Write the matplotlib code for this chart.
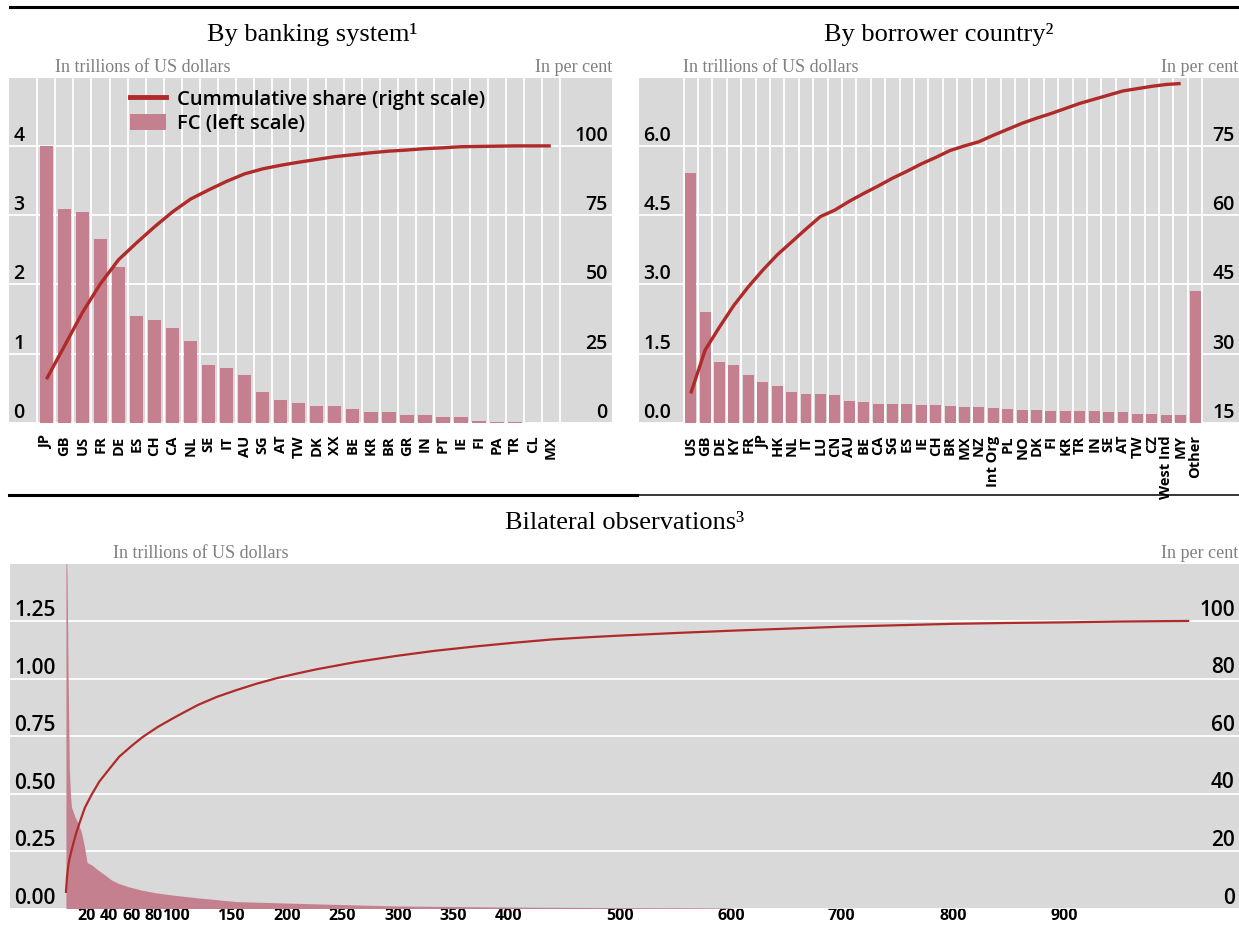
import matplotlib.pyplot as plt
from matplotlib.lines import Line2D
from matplotlib.patches import Patch

BG = '#d9d9d9'
BAR = '#c4808f'
LINE = '#b02a2a'
SANS = 'Open Sans'
SERIF = 'Liberation Serif'

# by banking system
bank_codes = ['JP', 'GB', 'US', 'FR', 'DE', 'ES', 'CH', 'CA', 'NL', 'SE', 'IT', 'AU', 'SG', 'AT', 'TW',
              'DK', 'XX', 'BE', 'KR', 'BR', 'GR', 'IN', 'PT', 'IE', 'FI', 'PA', 'TR', 'CL', 'MX']
bank_fc = [4.00, 3.09, 3.04, 2.66, 2.25, 1.55, 1.48, 1.37, 1.18, 0.83, 0.79, 0.70, 0.45, 0.33, 0.29,
           0.25, 0.25, 0.20, 0.16, 0.16, 0.11, 0.11, 0.09, 0.09, 0.03, 0.02, 0.02, 0.0, 0.0]
bank_cum = [15.8, 27.8, 39.9, 50.3, 58.9, 65.0, 70.8, 76.2, 80.8, 84.1, 87.2, 89.9, 91.7, 93.0, 94.1,
            95.1, 96.1, 96.8, 97.5, 98.1, 98.5, 99.0, 99.3, 99.7, 99.8, 99.9, 100.0, 100.0, 100.0]

# by borrower country
borr_codes = ['US', 'GB', 'DE', 'KY', 'FR', 'JP', 'HK', 'NL', 'IT', 'LU', 'CN', 'AU', 'BE', 'CA', 'SG',
              'ES', 'IE', 'CH', 'BR', 'MX', 'NZ', 'Int Org', 'PL', 'NO', 'DK', 'FI', 'KR', 'TR', 'IN',
              'SE', 'AT', 'TW', 'CZ', 'West Ind', 'MY', 'Other']
borr_fc = [5.41, 2.41, 1.31, 1.26, 1.04, 0.89, 0.81, 0.68, 0.62, 0.62, 0.61, 0.47, 0.45, 0.42, 0.42,
           0.42, 0.40, 0.38, 0.37, 0.35, 0.35, 0.33, 0.30, 0.29, 0.29, 0.27, 0.27, 0.27, 0.26,
           0.24, 0.23, 0.20, 0.20, 0.18, 0.17, 2.86]
borr_cum = [21.4, 30.8, 35.8, 40.5, 44.5, 48.1, 51.4, 54.2, 57.0, 59.7, 61.1, 63.0, 64.7, 66.3, 68.0,
            69.5, 71.1, 72.5, 74.0, 75.0, 75.9, 77.3, 78.6, 79.9, 81.0, 82.0, 83.1, 84.2, 85.1,
            86.0, 86.9, 87.4, 87.9, 88.3, 88.5]

# bilateral observations (rank, value)
bil_rank = [1, 2, 3, 4, 5, 6, 9, 12, 15, 18, 20, 24, 30, 36, 42, 48, 57, 69, 81, 96, 120, 155, 227,
            298, 405, 500, 600]
bil_fc = [1.60, 1.45, 1.00, 0.62, 0.50, 0.44, 0.40, 0.37, 0.33, 0.26, 0.20, 0.19, 0.167, 0.146, 0.124,
          0.11, 0.095, 0.08, 0.069, 0.059, 0.046, 0.03, 0.02, 0.011, 0.006, 0.004, 0.003]
bil_cum_rank = [1, 2, 3, 4, 6, 8, 10, 13, 18, 24, 31, 40, 49, 60, 70, 84, 100, 120, 137, 155, 173,
                191, 209, 227, 262, 298, 333, 369, 404, 440, 470, 500, 550, 600, 650, 700, 750, 800,
                850, 900, 950, 1012]
bil_cum = [5.8, 11.0, 14.6, 16.9, 20.2, 23.1, 25.9, 29.5, 35.0, 39.5, 44.1, 48.5, 52.8, 56.5, 59.6,
           63.2, 66.7, 70.8, 73.6, 76.0, 78.2, 80.1, 81.7, 83.2, 85.7, 87.8, 89.6, 91.1, 92.4, 93.6,
           94.3, 94.9, 95.8, 96.6, 97.3, 98.0, 98.5, 99.0, 99.3, 99.5, 99.8, 100.0]
bil_xticks = [20, 40, 60, 80, 100, 150, 200, 250, 300, 350, 400, 500, 600, 700, 800, 900]

W, H = 1239, 931
fig = plt.figure(figsize=(W / 100, H / 100), dpi=100)


def box(l, t, r, b):
    return [l / W, 1 - b / H, (r - l) / W, (b - t) / H]


def style(ax, ax2, yt, ylab, yt2, ylab2, ylim, ylim2, fs):
    ax.set_facecolor(BG)
    for a in (ax, ax2):
        for s in a.spines.values():
            s.set_visible(False)
    ax.set_ylim(ylim)
    ax2.set_ylim(ylim2)
    ax.set_yticks(yt, labels=ylab)
    ax2.set_yticks(yt2, labels=ylab2)
    ax.grid(axis='y', color='white', lw=1.3)
    ax.set_axisbelow(True)
    ax.tick_params(axis='y', length=0, pad=-3)
    ax2.tick_params(axis='y', length=0, pad=-3)
    for t in ax.get_yticklabels():
        t.set(ha='left', va='bottom', fontsize=fs, fontweight='semibold', family=SANS)
    for t in ax2.get_yticklabels():
        t.set(ha='right', va='bottom', fontsize=fs, fontweight='semibold', family=SANS)


def bar_panel(rect, codes, fc, cum, xlim, yt, ylab, yt2, ylab2, ylim, ylim2):
    ax = fig.add_axes(rect)
    ax2 = ax.twinx()
    n = len(codes)
    ax.bar(range(n), fc, width=0.76, color=BAR, zorder=2)
    for i in range(n + 1):
        ax.axvline(i - 0.5, color='white', lw=1.3, zorder=1)
    ax2.plot(range(len(cum)), cum, color=LINE, lw=2.4, solid_capstyle='butt')
    ax.set_xlim(xlim)
    ax.set_xticks(range(n), labels=codes, rotation=90)
    ax.tick_params(axis='x', length=0, pad=9)
    for t in ax.get_xticklabels():
        t.set(fontsize=10.5, fontweight='bold', family=SANS)
    style(ax, ax2, yt, ylab, yt2, ylab2, ylim, ylim2, 14)
    return ax, ax2


ax1, ax1b = bar_panel(box(9, 78, 612, 423), bank_codes, bank_fc, bank_cum, (-2.08, 31.4),
                      [0, 1, 2, 3, 4], ['0', '1', '2', '3', '4'],
                      [0, 25, 50, 75, 100], ['0', '25', '50', '75', '100'], (0, 4.98), (0, 124.5))

handles = [Line2D([], [], color=LINE, lw=3.5), Patch(facecolor=BAR)]
ax1b.legend(handles, ['Cummulative share (right scale)', 'FC (left scale)'], loc='upper left',
            bbox_to_anchor=(0.2, 0.966), frameon=False, handlelength=1.8, handleheight=0.85,
            handletextpad=0.55, labelspacing=0.2, borderpad=0, borderaxespad=0,
            prop=dict(family=SANS, weight='semibold', size=14.5))

ax2, ax2b = bar_panel(box(639, 78, 1239, 423), borr_codes, borr_fc, borr_cum, (-3.59, 38.05),
                      [0, 1.5, 3.0, 4.5, 6.0], ['0.0', '1.5', '3.0', '4.5', '6.0'],
                      [15, 30, 45, 60, 75], ['15', '30', '45', '60', '75'], (0, 7.47), (15, 89.7))

# bilateral
ax3 = fig.add_axes(box(10, 564, 1239, 908.5))
ax3b = ax3.twinx()
ax3.fill_between(bil_rank, bil_fc, 0, color=BAR, lw=0, zorder=2)
ax3b.plot(bil_cum_rank, bil_cum, color=LINE, lw=1.6)
ax3.set_xlim(-49.4, 1057.8)
ax3.set_xticks(bil_xticks, labels=[str(v) for v in bil_xticks])
ax3.tick_params(axis='x', length=0, pad=0)
for t in ax3.get_xticklabels():
    t.set(fontsize=11.5, fontweight='bold', family=SANS)
style(ax3, ax3b, [0, 0.25, 0.5, 0.75, 1.0, 1.25], ['0.00', '0.25', '0.50', '0.75', '1.00', '1.25'],
      [0, 20, 40, 60, 80, 100], ['0', '20', '40', '60', '80', '100'], (0, 1.498), (0, 119.8), 15)

# titles and unit notes
fig.text(312 / W, 1 - 35 / H, 'By banking system\u00b9', ha='center', va='center', family=SERIF, fontsize=19)
fig.text(939 / W, 1 - 35 / H, 'By borrower country\u00b2', ha='center', va='center', family=SERIF, fontsize=19)
fig.text(625 / W, 1 - 523 / H, 'Bilateral observations\u00b3', ha='center', va='center', family=SERIF, fontsize=19)
notes = [(55, 67, 'In trillions of US dollars', 'left'), (612, 67, 'In per cent', 'right'),
         (683, 67, 'In trillions of US dollars', 'left'), (1238, 67, 'In per cent', 'right'),
         (113, 554, 'In trillions of US dollars', 'left'), (1238, 554, 'In per cent', 'right')]
for x, y, s, ha in notes:
    fig.text(x / W, 1 - y / H, s, ha=ha, va='center', family=SERIF, fontsize=13, color='#808080')

# rules
fig.add_artist(Line2D([10 / W, 1], [1 - 7 / H] * 2, color='black', lw=2.2))
fig.add_artist(Line2D([9 / W, 637 / W], [1 - 495 / H] * 2, color='black', lw=2.2))
fig.add_artist(Line2D([637 / W, 1], [1 - 495 / H] * 2, color='black', lw=1.1))

fig.savefig('out.png', dpi=100)
